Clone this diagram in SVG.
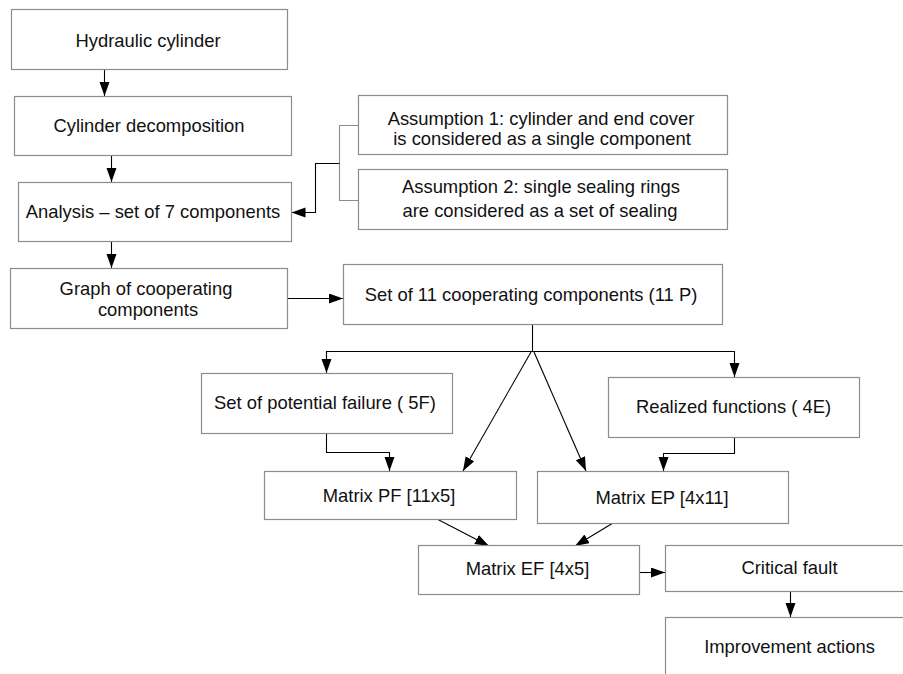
<svg xmlns="http://www.w3.org/2000/svg" width="903" height="674" viewBox="0 0 903 674">
  <style>
    .box { fill: #ffffff; stroke: #8c8c8c; stroke-width: 1.2; }
    .lbl { font-family: "Liberation Sans", Arial, sans-serif; font-size: 18.4px; fill: #111111; text-anchor: middle; }
    .wire { fill: none; stroke: #000000; stroke-width: 1.1; }
    .brace { fill: none; stroke: #8c8c8c; stroke-width: 1.1; }
  </style>
  <defs>
    <marker id="head" markerUnits="userSpaceOnUse" markerWidth="15" markerHeight="11" refX="14" refY="5" orient="auto">
      <path d="M0,0 L14,5 L0,10 z" fill="#000000"/>
    </marker>
  </defs>
  <rect width="903" height="674" fill="#ffffff"/>

  <!-- connectors -->
  <g id="connectors">
    <path class="wire" d="M104.5,69 V96" marker-end="url(#head)"/>
    <path class="wire" d="M111.5,155 V182" marker-end="url(#head)"/>
    <path class="wire" d="M111.5,241 V268" marker-end="url(#head)"/>
    <path class="wire" d="M287,298.5 H343" marker-end="url(#head)"/>
    <!-- assumptions bracket -->
    <path class="brace" d="M358,125.5 H339.5 V200.5 H358"/>
    <path class="wire" d="M339.5,163.5 H315.5 V212.5 H291.5" marker-end="url(#head)"/>
    <!-- fan-out from the set of 11 components -->
    <path class="wire" d="M532.5,324 V351.5"/>
    <path class="wire" d="M532.5,351.5 H326.5 V373" marker-end="url(#head)"/>
    <path class="wire" d="M532.5,351.5 H734.5 V377" marker-end="url(#head)"/>
    <path class="wire" d="M531,352 L463,471" marker-end="url(#head)"/>
    <path class="wire" d="M534,352 L586,471" marker-end="url(#head)"/>
    <!-- into the matrices -->
    <path class="wire" d="M326.5,433 V452.5 H389.5 V471" marker-end="url(#head)"/>
    <path class="wire" d="M734.5,437 V453.5 H663.5 V471" marker-end="url(#head)"/>
    <path class="wire" d="M437,519 L489,546" marker-end="url(#head)"/>
    <path class="wire" d="M613,523 L575,546" marker-end="url(#head)"/>
    <path class="wire" d="M639,572.5 H665" marker-end="url(#head)"/>
    <path class="wire" d="M790.5,591 V617" marker-end="url(#head)"/>
  </g>

  <g id="hydraulic-cylinder">
    <rect class="box" x="11.5" y="9.5" width="276" height="60"/>
    <text class="lbl" x="148" y="46.5">Hydraulic cylinder</text>
  </g>
  <g id="cylinder-decomposition">
    <rect class="box" x="14.5" y="96.5" width="277" height="59"/>
    <text class="lbl" x="149" y="132">Cylinder decomposition</text>
  </g>
  <g id="analysis">
    <rect class="box" x="18.5" y="182.5" width="273" height="59"/>
    <text class="lbl" x="153" y="218">Analysis – set of 7 components</text>
  </g>
  <g id="assumption-1">
    <rect class="box" x="358.5" y="95.5" width="369" height="59"/>
    <text class="lbl" x="541" y="124.5">Assumption 1: cylinder and end cover</text>
    <text class="lbl" x="542" y="145">is considered as a single component</text>
  </g>
  <g id="assumption-2">
    <rect class="box" x="358.5" y="169.5" width="369" height="60"/>
    <text class="lbl" x="541" y="193">Assumption 2: single sealing rings</text>
    <text class="lbl" x="540" y="217">are considered as a set of sealing</text>
  </g>
  <g id="graph">
    <rect class="box" x="10.5" y="268.5" width="277" height="60"/>
    <text class="lbl" x="146" y="295">Graph of cooperating</text>
    <text class="lbl" x="148" y="316">components</text>
  </g>
  <g id="cooperating-set">
    <rect class="box" x="343.5" y="264.5" width="379" height="60"/>
    <text class="lbl" x="531" y="300.5">Set of 11 cooperating components (11 P)</text>
  </g>
  <g id="potential-failure">
    <rect class="box" x="201.5" y="373.5" width="251" height="60"/>
    <text class="lbl" x="325" y="409">Set of potential failure ( 5F)</text>
  </g>
  <g id="realized-functions">
    <rect class="box" x="608.5" y="377.5" width="251" height="60"/>
    <text class="lbl" x="733.5" y="413">Realized functions ( 4E)</text>
  </g>
  <g id="matrix-pf">
    <rect class="box" x="264.5" y="471.5" width="252" height="48"/>
    <text class="lbl" x="389" y="501.5">Matrix PF [11x5]</text>
  </g>
  <g id="matrix-ep">
    <rect class="box" x="537.5" y="471.5" width="251" height="52"/>
    <text class="lbl" x="662" y="503.5">Matrix EP [4x11]</text>
  </g>
  <g id="matrix-ef">
    <rect class="box" x="418.5" y="545.5" width="221" height="49"/>
    <text class="lbl" x="527.5" y="575">Matrix EF [4x5]</text>
  </g>
  <g id="critical-fault">
    <rect class="box" x="665.5" y="545.5" width="250" height="46"/>
    <text class="lbl" x="789.5" y="573.5">Critical fault</text>
  </g>
  <g id="improvement-actions">
    <rect class="box" x="665.5" y="617.5" width="250" height="70"/>
    <text class="lbl" x="789.5" y="653">Improvement actions</text>
  </g>
</svg>
